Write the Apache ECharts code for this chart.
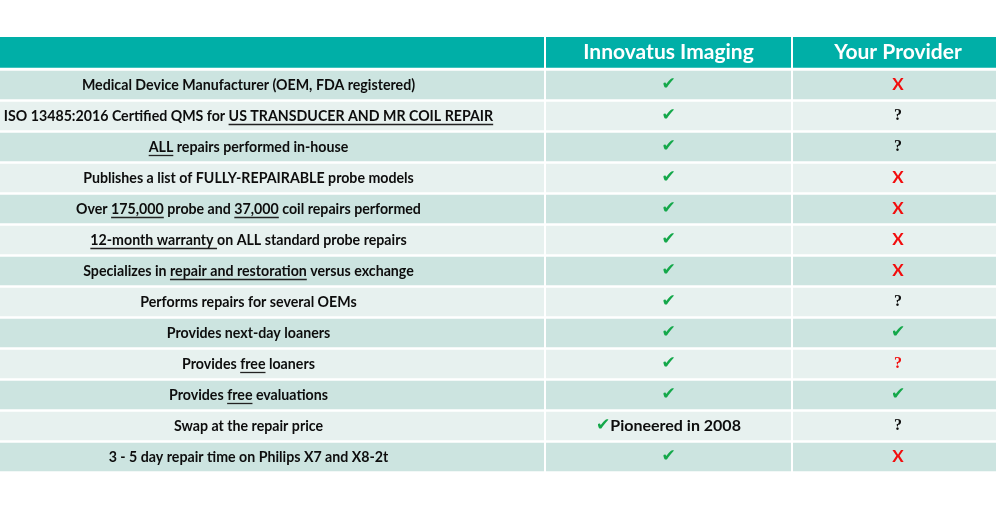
<!DOCTYPE html>
<html>
<head>
<meta charset="utf-8">
<script src="https://cdn.jsdelivr.net/npm/echarts@6/dist/echarts.min.js"></script>
<style>
html, body { margin: 0; background: #fff; }
#main { width: 996px; height: 507px; }
</style>
</head>
<body>
<div id="main"></div>
<script>
const headers = ["", "Innovatus Imaging", "Your Provider"];
// words in [ ] are underlined
const features = [
	"Medical Device Manufacturer (OEM, FDA registered)",
	"ISO 13485:2016 Certified QMS for [US TRANSDUCER AND MR COIL REPAIR]",
	"[ALL] repairs performed in-house",
	"Publishes a list of FULLY-REPAIRABLE probe models",
	"Over [175,000] probe and [37,000] coil repairs performed",
	"[12-month warranty ]on ALL standard probe repairs",
	"Specializes in [repair and restoration] versus exchange",
	"Performs repairs for several OEMs",
	"Provides next-day loaners",
	"Provides [free] loaners",
	"Provides [free] evaluations",
	"Swap at the repair price",
	"3 - 5 day repair time on Philips X7 and X8-2t"
];
const innovatus = ["yes", "yes", "yes", "yes", "yes", "yes", "yes", "yes", "yes", "yes", "yes", "yes", "yes"];
const innovatusNotes = ["", "", "", "", "", "", "", "", "", "", "", "Pioneered in 2008", ""];
const provider = ["no", "unknown", "unknown", "no", "no", "no", "no", "unknown", "yes", "doubt", "yes", "unknown", "no"];

const TEAL = "#00afa7", DARK = "#cce4e0", LIGHT = "#e7f1ef";
const GREEN = "#14a84a", RED = "#f20d0d", INK = "#0d0d0d";
const BODY_FONT = "bold 14.2px Lato";
const CHECK_FONT = "17px 'DejaVu Sans'";
const colLayout = [{left: -48, width: 593}, {left: 545, width: 247}, {left: 792, width: 212}];
const partLayout = [{top: 35.8, height: 33.1}, {top: 69.5, height: 403}];

const measure = document.createElement("canvas").getContext("2d");

function symbolText(kind, x, y) {
	const s = {x: x, y: y, align: "center", verticalAlign: "middle"};
	if (kind === "yes") return Object.assign(s, {text: "✔", fill: GREEN, font: CHECK_FONT});
	if (kind === "no") return Object.assign(s, {text: "X", fill: RED, font: "bold 17px Lato"});
	return Object.assign(s, {text: "?", fill: kind === "doubt" ? RED : INK, font: "bold 16px 'Liberation Serif'"});
}

function featureCell(str, cx, cy) {
	const parts = [];
	str.split(/(\[[^\]]*\])/).forEach(p => {
		if (!p) return;
		if (p[0] === "[") parts.push({t: p.slice(1, -1), u: true});
		else parts.push({t: p, u: false});
	});
	const plain = parts.map(p => p.t).join("");
	measure.font = BODY_FONT;
	const total = measure.measureText(plain).width;
	const kids = [{type: "text", style: {text: plain, x: cx, y: cy, align: "center", verticalAlign: "middle", font: BODY_FONT, fill: INK}}];
	let x = cx - total / 2;
	parts.forEach(p => {
		const w = measure.measureText(p.t).width;
		if (p.u) {
			kids.push({type: "line", shape: {x1: x, y1: cy + 8.5, x2: x + w, y2: cy + 8.5}, style: {stroke: "#222", lineWidth: 1.3}});
		}
		x += w;
	});
	return kids;
}

const grid = [], xAxis = [], yAxis = [], series = [];
colLayout.forEach((col, c) => {
	partLayout.forEach((part, p) => {
		const i = grid.length;
		grid.push({left: col.left, width: col.width, top: part.top, height: part.height, outerBoundsMode: "none", containLabel: false});
		xAxis.push({gridIndex: i, type: "category", data: [headers[c]], show: false});
		yAxis.push({gridIndex: i, type: "category", data: p === 0 ? ["header"] : features, inverse: true, show: false});
		const data = p === 0 ? [[0, 0]] : features.map((_, r) => [0, r]);
		series.push({
			type: "custom",
			xAxisIndex: i,
			yAxisIndex: i,
			data: data,
			silent: true,
			clip: false,
			renderItem: function (params, api) {
				const r = api.value(1);
				const pt = api.coord([api.value(0), r]);
				const sz = api.size([1, 1]);
				const w = sz[0] - 2, h = sz[1] - 2.4;
				const fill = p === 0 ? TEAL : (r % 2 === 0 ? DARK : LIGHT);
				const kids = [{type: "rect", shape: {x: pt[0] - w / 2, y: pt[1] - h / 2, width: w, height: h}, style: {fill: fill}}];
				if (p === 0) {
					if (headers[c]) kids.push({type: "text", style: {text: headers[c], x: pt[0], y: pt[1], align: "center", verticalAlign: "middle", font: "bold 21px Lato", fill: "#fff"}});
				} else if (c === 0) {
					featureCell(features[r], pt[0], pt[1]).forEach(k => kids.push(k));
				} else if (c === 1) {
					if (innovatusNotes[r]) {
						kids.push({type: "text", style: {
							text: "{c|✔}{t|" + innovatusNotes[r] + "}", x: pt[0], y: pt[1], align: "center", verticalAlign: "middle",
							rich: {c: {fill: GREEN, font: CHECK_FONT}, t: {fill: INK, font: "bold 16px Lato"}}
						}});
					} else {
						kids.push({type: "text", style: symbolText(innovatus[r], pt[0], pt[1])});
					}
				} else {
					kids.push({type: "text", style: symbolText(provider[r], pt[0], pt[1])});
				}
				return {type: "group", children: kids};
			}
		});
	});
});

const chart = echarts.init(document.getElementById("main"));
chart.setOption({animation: false, backgroundColor: "#fff", grid: grid, xAxis: xAxis, yAxis: yAxis, series: series});
</script>
</body>
</html>
